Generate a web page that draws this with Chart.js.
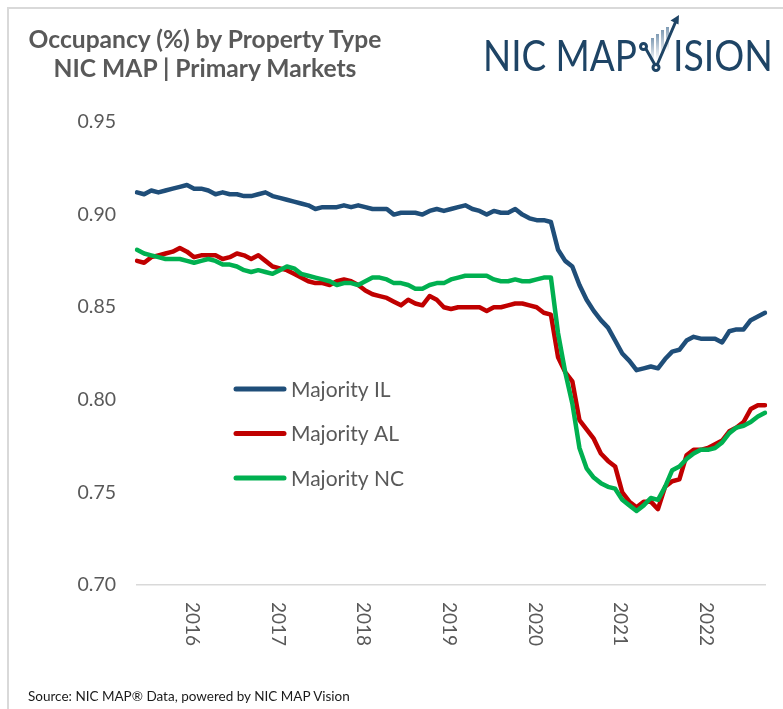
<!DOCTYPE html>
<html>
<head>
<meta charset="utf-8">
<title>Occupancy (%) by Property Type</title>
<script src="https://cdn.jsdelivr.net/npm/chart.js@4.4.0/dist/chart.umd.min.js"></script>
<style>
  body { margin: 0; background: #fff; font-family: Lato, "Open Sans", sans-serif; }
  #wrap { position: relative; width: 783px; height: 709px; overflow: hidden; }
  #frame { position: absolute; left: 7px; top: 7px; width: 800px; height: 720px;
           border-left: 2px solid #d9d9d9; border-top: 2px solid #d9d9d9; }
  #chartBox { position: absolute; left: 0; top: 0; width: 783px; height: 709px; }
  #title { position: absolute; left: 0; top: 24px; width: 410px; text-align: center;
           font-weight: 700; font-size: 24.6px; line-height: 29px; color: #595959; }
  #logo { position: absolute; left: 0; top: 0; }
  #source { position: absolute; left: 28px; top: 688px; font-size: 13.5px; color: #1a1a1a; white-space: nowrap; }
</style>
</head>
<body>
<div id="wrap">
  <div id="frame"></div>
  <div id="chartBox"><canvas id="myChart"></canvas></div>
  <div id="title">Occupancy (%) by Property Type<br>NIC MAP | Primary Markets</div>
  <svg id="logo" width="783" height="100">
    <defs>
      <linearGradient id="barFade" x1="0" y1="1" x2="0" y2="0">
        <stop offset="0" stop-color="#ffffff"/>
        <stop offset="1" stop-color="#7f9bb4"/>
      </linearGradient>
    </defs>
    <text x="483" y="70.5" textLength="154" lengthAdjust="spacingAndGlyphs"
          font-family="Lato" font-weight="400" font-size="42" fill="#1e4465">NIC MAP</text>
    <rect x="651" y="38" width="3" height="24" fill="url(#barFade)"/>
    <rect x="656" y="34" width="3" height="26" fill="url(#barFade)"/>
    <rect x="661" y="30" width="3" height="26" fill="url(#barFade)"/>
    <rect x="666" y="27" width="3" height="24" fill="url(#barFade)"/>
    <g stroke="#1e4465" stroke-width="3" fill="none" stroke-linecap="round">
      <line x1="646" y1="49" x2="654.5" y2="64"/>
      <line x1="657.5" y1="64" x2="676" y2="21"/>
      <circle cx="643.5" cy="46.5" r="3"/>
      <circle cx="656" cy="67.5" r="3"/>
    </g>
    <polygon points="679,15 670.5,20.5 678.5,24.5" fill="#1e4465"/>
    <text x="673" y="70.5" textLength="100" lengthAdjust="spacingAndGlyphs"
          font-family="Lato" font-weight="400" font-size="42" fill="#1e4465">ISION</text>
  </svg>
  <div id="source">Source: NIC MAP® Data, powered by NIC MAP Vision</div>
</div>

<script>
// monthly periods, May 2015 .. Sep 2022
var months = [
  "2015-05", "2015-06", "2015-07", "2015-08", "2015-09", "2015-10", "2015-11", "2015-12",
  "2016-01", "2016-02", "2016-03", "2016-04", "2016-05", "2016-06", "2016-07", "2016-08", "2016-09", "2016-10", "2016-11", "2016-12",
  "2017-01", "2017-02", "2017-03", "2017-04", "2017-05", "2017-06", "2017-07", "2017-08", "2017-09", "2017-10", "2017-11", "2017-12",
  "2018-01", "2018-02", "2018-03", "2018-04", "2018-05", "2018-06", "2018-07", "2018-08", "2018-09", "2018-10", "2018-11", "2018-12",
  "2019-01", "2019-02", "2019-03", "2019-04", "2019-05", "2019-06", "2019-07", "2019-08", "2019-09", "2019-10", "2019-11", "2019-12",
  "2020-01", "2020-02", "2020-03", "2020-04", "2020-05", "2020-06", "2020-07", "2020-08", "2020-09", "2020-10", "2020-11", "2020-12",
  "2021-01", "2021-02", "2021-03", "2021-04", "2021-05", "2021-06", "2021-07", "2021-08", "2021-09", "2021-10", "2021-11", "2021-12",
  "2022-01", "2022-02", "2022-03", "2022-04", "2022-05", "2022-06", "2022-07", "2022-08", "2022-09"
];

var yearTicks = ["2016", "2017", "2018", "2019", "2020", "2021", "2022"];
var yTicks = [0.70, 0.75, 0.80, 0.85, 0.90, 0.95];
var seriesNames = ["Majority IL", "Majority AL", "Majority NC"];
var seriesColors = ["#1f4e79", "#c00000", "#00b050"];

var majorityIL = [
  0.912, 0.911, 0.913, 0.912, 0.913, 0.914, 0.915, 0.916,
  0.914, 0.914, 0.913, 0.911, 0.912, 0.911, 0.911, 0.910, 0.910, 0.911, 0.912, 0.910,
  0.909, 0.908, 0.907, 0.906, 0.905, 0.903, 0.904, 0.904, 0.904, 0.905, 0.904, 0.905,
  0.904, 0.903, 0.903, 0.903, 0.900, 0.901, 0.901, 0.901, 0.900, 0.902, 0.903, 0.902,
  0.903, 0.904, 0.905, 0.903, 0.902, 0.900, 0.902, 0.901, 0.901, 0.903, 0.900, 0.898,
  0.897, 0.897, 0.896, 0.881, 0.875, 0.872, 0.862, 0.854, 0.848, 0.843, 0.839, 0.832,
  0.825, 0.821, 0.816, 0.817, 0.818, 0.817, 0.822, 0.826, 0.827, 0.832, 0.834, 0.833,
  0.833, 0.833, 0.831, 0.837, 0.838, 0.838, 0.843, 0.845, 0.847
];

var majorityAL = [
  0.875, 0.874, 0.877, 0.878, 0.879, 0.880, 0.882, 0.880,
  0.877, 0.878, 0.878, 0.878, 0.876, 0.877, 0.879, 0.878, 0.876, 0.878, 0.875, 0.872,
  0.871, 0.870, 0.868, 0.866, 0.864, 0.863, 0.863, 0.862, 0.864, 0.865, 0.864, 0.862,
  0.859, 0.857, 0.856, 0.855, 0.853, 0.851, 0.854, 0.852, 0.851, 0.856, 0.854, 0.850,
  0.849, 0.850, 0.850, 0.850, 0.850, 0.848, 0.850, 0.850, 0.851, 0.852, 0.852, 0.851,
  0.850, 0.847, 0.846, 0.823, 0.815, 0.810, 0.789, 0.784, 0.779, 0.771, 0.767, 0.764,
  0.750, 0.745, 0.742, 0.745, 0.745, 0.741, 0.753, 0.756, 0.757, 0.770, 0.773, 0.773,
  0.774, 0.776, 0.778, 0.783, 0.785, 0.788, 0.795, 0.797, 0.797
];

var majorityNC = [
  0.881, 0.879, 0.878, 0.877, 0.876, 0.876, 0.876, 0.875,
  0.874, 0.875, 0.876, 0.875, 0.873, 0.873, 0.872, 0.870, 0.869, 0.870, 0.869, 0.868,
  0.870, 0.872, 0.871, 0.868, 0.867, 0.866, 0.865, 0.864, 0.862, 0.863, 0.863, 0.862,
  0.864, 0.866, 0.866, 0.865, 0.863, 0.863, 0.862, 0.860, 0.860, 0.862, 0.863, 0.863,
  0.865, 0.866, 0.867, 0.867, 0.867, 0.867, 0.865, 0.864, 0.864, 0.865, 0.864, 0.864,
  0.865, 0.866, 0.866, 0.836, 0.815, 0.798, 0.774, 0.763, 0.758, 0.755, 0.753, 0.752,
  0.746, 0.743, 0.740, 0.743, 0.747, 0.746, 0.753, 0.762, 0.764, 0.768, 0.771, 0.773,
  0.773, 0.774, 0.777, 0.782, 0.785, 0.786, 0.788, 0.791, 0.793
];

var gray = "#595959";

// year labels read top-to-bottom under the axis
var yearLabels = {
  id: "yearLabels",
  afterDraw: function (chart) {
    var ctx = chart.ctx;
    var x = chart.scales.x;
    ctx.save();
    ctx.font = "19px Lato";
    ctx.fillStyle = gray;
    ctx.textBaseline = "middle";
    ctx.textAlign = "left";
    yearTicks.forEach(function (yr) {
      var px = x.getPixelForValue(months.indexOf(yr + "-01"));
      ctx.save();
      ctx.translate(px - 2, chart.chartArea.bottom + 17);
      ctx.rotate(Math.PI / 2);
      ctx.fillText(yr, 0, 0);
      ctx.restore();
    });
    ctx.restore();
  }
};

// legend sits inside the plot, left of the 2020 drop
var lineLegend = {
  id: "lineLegend",
  afterDraw: function (chart) {
    var ctx = chart.ctx;
    ctx.save();
    ctx.font = "21px Lato";
    ctx.textBaseline = "middle";
    chart.data.datasets.forEach(function (ds, i) {
      var y = 389 + i * 44.5;
      ctx.strokeStyle = ds.borderColor;
      ctx.lineWidth = 5;
      ctx.lineCap = "round";
      ctx.beginPath();
      ctx.moveTo(236, y);
      ctx.lineTo(284, y);
      ctx.stroke();
      ctx.fillStyle = gray;
      ctx.fillText(ds.label, 291, y + 1);
    });
    ctx.restore();
  }
};

var seriesData = [majorityIL, majorityAL, majorityNC];

function createChart() {
  var ctx = document.getElementById("myChart").getContext("2d");
  new Chart(ctx, {
    type: "line",
    data: {
      labels: months,
      datasets: seriesData.map(function (d, i) {
        return {
          label: seriesNames[i],
          data: d,
          borderColor: seriesColors[i],
          backgroundColor: seriesColors[i],
          borderWidth: 4.5,
          pointRadius: 0,
          tension: 0,
          borderCapStyle: "round",
          borderJoinStyle: "round",
          order: 3 - i
        };
      })
    },
    options: {
      responsive: true,
      maintainAspectRatio: false,
      animation: false,
      layout: { padding: { left: 60, right: 18, top: 122, bottom: 124 } },
      plugins: { legend: { display: false }, tooltip: { enabled: false } },
      scales: {
        x: {
          type: "category",
          offset: false,
          ticks: { display: false },
          grid: { display: false },
          border: { display: true, color: "#d9d9d9", width: 1.5 },
          afterFit: function (s) { s.height = 0; }
        },
        y: {
          min: 0.70,
          max: 0.95,
          grid: { display: false, drawTicks: false },
          border: { display: false },
          afterFit: function (s) { s.width = 77; },
          afterBuildTicks: function (s) {
            s.ticks = yTicks.map(function (v) { return { value: v }; });
          },
          ticks: {
            padding: 21,
            color: gray,
            font: { family: "Lato", size: 19.5 },
            callback: function (v) { return v.toFixed(2); }
          }
        }
      }
    },
    plugins: [yearLabels, lineLegend]
  });
}
createChart();
</script>
</body>
</html>
